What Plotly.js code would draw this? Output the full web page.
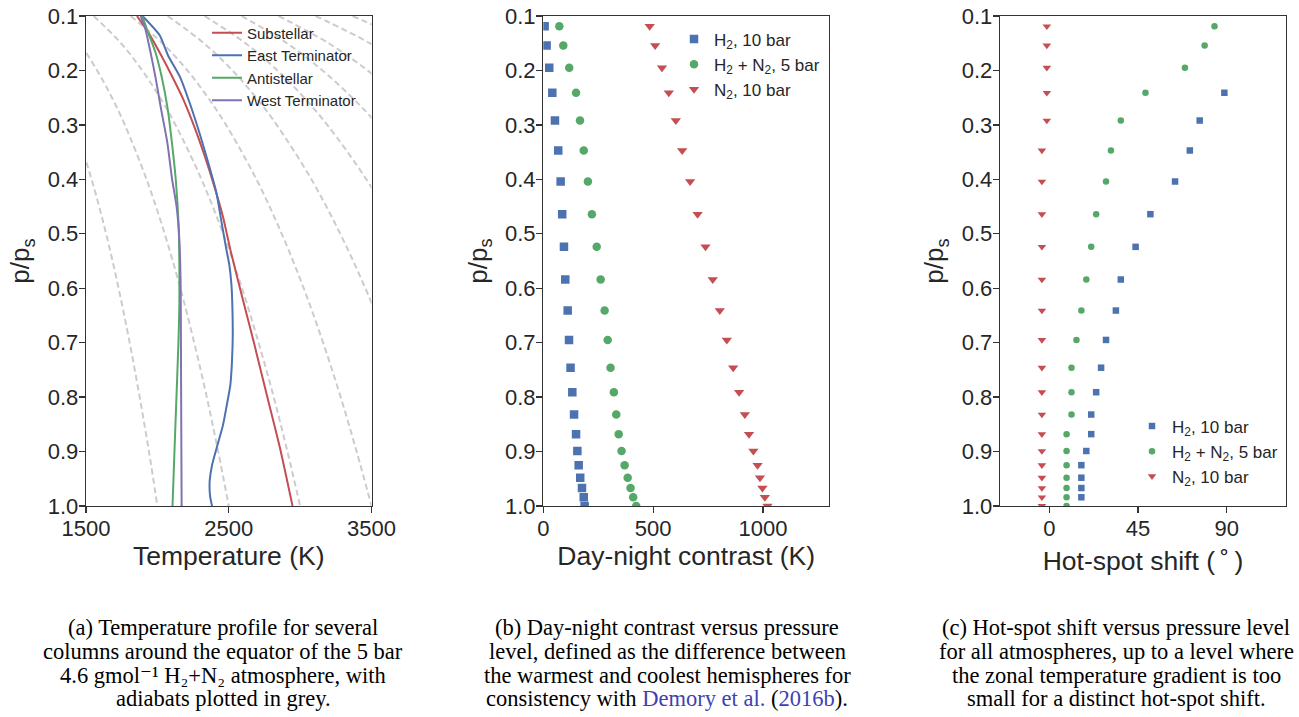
<!DOCTYPE html>
<html><head><meta charset="utf-8">
<script src="https://cdn.plot.ly/plotly-3.0.1.min.js"></script>
<style>html,body{margin:0;padding:0;background:#fff}#chart{width:1299px;height:717px}</style>
</head><body><div id="chart"></div>
<script>
// ---------- Panel (a): temperature profiles ----------
const profileNames = ['Substellar', 'East Terminator', 'Antistellar', 'West Terminator'];
const subP  = [0.1, 0.131, 0.175, 0.214, 0.254, 0.309, 0.359, 0.420, 0.469, 0.530, 0.622, 0.704, 0.805, 0.897, 1.0];
const subT  = [1857, 1938, 2032, 2109, 2183, 2267, 2334, 2407, 2460, 2512, 2600, 2680, 2775, 2862, 2947];
const eastP = [0.1, 0.135, 0.172, 0.214, 0.264, 0.315, 0.370, 0.425, 0.478, 0.530, 0.557, 0.594, 0.640, 0.686, 0.732, 0.778, 0.815, 0.851, 0.888, 0.925, 0.952, 0.971, 0.985, 1.0];
const eastT = [1896, 2015, 2074, 2162, 2232, 2295, 2357, 2414, 2449, 2484, 2504, 2519, 2526, 2528, 2523, 2511, 2486, 2460, 2421, 2383, 2367, 2366, 2371, 2383];
const antiP = [0.1, 0.126, 0.168, 0.214, 0.267, 0.333, 0.398, 0.484, 0.557, 0.631, 0.704, 0.805, 0.897, 1.0];
const antiT = [1894, 1929, 1988, 2032, 2070, 2102, 2128, 2149, 2154, 2154, 2147, 2133, 2120, 2106];
const westP = [0.1, 0.126, 0.168, 0.214, 0.267, 0.333, 0.398, 0.451, 0.511, 0.594, 0.704, 0.897, 1.0];
const westT = [1883, 1918, 1953, 1988, 2023, 2070, 2102, 2135, 2154, 2163, 2165, 2168, 2170];

// grey dry adiabats, one per surface temperature
const adiabatP = [0.1, 0.15, 0.2, 0.25, 0.3, 0.4, 0.5, 0.6, 0.7, 0.8, 0.9, 1.0];
const adiabat2000 = [1036, 1163, 1263, 1346, 1418, 1539, 1641, 1728, 1806, 1876, 1941, 2000];
const adiabat2500 = [1295, 1454, 1578, 1682, 1772, 1924, 2051, 2161, 2258, 2346, 2426, 2500];
const adiabat3000 = [1554, 1745, 1894, 2019, 2127, 2309, 2461, 2593, 2709, 2815, 2911, 3000];
const adiabat3500 = [1813, 2035, 2210, 2355, 2481, 2694, 2871, 3025, 3161, 3284, 3396, 3500];
const adiabat4000 = [2072, 2326, 2526, 2692, 2836, 3079, 3281, 3457, 3612, 3753, 3881, 4000];
const adiabat4500 = [2331, 2617, 2841, 3028, 3190, 3464, 3692, 3889, 4064, 4222, 4367, 4500];
const adiabat5000 = [2590, 2908, 3157, 3365, 3545, 3848, 4102, 4321, 4516, 4691, 4852, 5000];
const adiabat5500 = [2849, 3199, 3473, 3701, 3899, 4233, 4512, 4753, 4967, 5160, 5337, 5500];
const adiabat6000 = [3108, 3489, 3788, 4038, 4254, 4618, 4922, 5185, 5419, 5629, 5822, 6000];
const adiabat6500 = [3367, 3780, 4104, 4374, 4608, 5003, 5332, 5617, 5870, 6098, 6307, 6500];
const adiabats = [adiabat2000, adiabat2500, adiabat3000, adiabat3500, adiabat4000,
                  adiabat4500, adiabat5000, adiabat5500, adiabat6000, adiabat6500];

// ---------- Panels (b) and (c): model levels ----------
const pLevels = [0.119, 0.154, 0.195, 0.241, 0.292, 0.347, 0.404, 0.464, 0.524, 0.584, 0.641,
                 0.695, 0.746, 0.791, 0.832, 0.868, 0.899, 0.925, 0.948, 0.967, 0.984, 1.0];
const seriesNames = ['H<sub>2</sub>, 10 bar', 'H<sub>2</sub> + N<sub>2</sub>, 5 bar', 'N<sub>2</sub>, 10 bar'];

const contrastH2   = [6, 15, 27, 41, 53, 68, 79, 86, 94, 100, 111, 117, 124, 132, 140, 149, 155, 161, 168, 176, 184, 188];
const contrastH2N2 = [73, 91, 118, 149, 167, 184, 203, 221, 243, 261, 279, 293, 306, 321, 332, 343, 356, 370, 384, 397, 409, 423];
const contrastN2   = [484, 509, 540, 571, 603, 632, 668, 702, 738, 771, 803, 835, 864, 891, 917, 936, 956, 975, 986, 997, 1008, 1020];

const shiftH2   = [null, null, null, 88.75, 76.25, 71.25, 63.75, 51.25, 43.75, 36.25, 33.75, 28.75, 26.25,
                   23.75, 21.25, 21.25, 18.75, 16.25, 16.25, 16.25, 16.25, null];
const shiftH2N2 = [83.75, 78.75, 68.75, 48.75, 36.25, 31.25, 28.75, 23.75, 21.25, 18.75, 16.25, 13.75, 11.25,
                   11.25, 11.25, 8.75, 8.75, 8.75, 8.75, 8.75, 8.75, 8.75];
const shiftN2   = [-1.25, -1.25, -1.25, -1.25, -1.25, -3.75, -3.75, -3.75, -3.75, -3.75, -3.75, -3.75, -3.75,
                   -3.75, -3.75, -3.75, -3.75, -3.75, -3.75, -3.75, -3.75, -3.75];

const yTicks = [0.1, 0.2, 0.3, 0.4, 0.5, 0.6, 0.7, 0.8, 0.9, 1.0];

const captionA = ['(a) Temperature profile for several',
                  'columns around the equator of the 5 bar',
                  '4.6 gmol⁻¹ H₂+N₂ atmosphere, with',
                  'adiabats plotted in grey.'];
const captionB = ['(b) Day-night contrast versus pressure',
                  'level, defined as the difference between',
                  'the warmest and coolest hemispheres for',
                  'consistency with <span style="color:#3f3fb5">Demory et al.</span> (<span style="color:#3f3fb5">2016b</span>).'];
const captionC = ['(c) Hot-spot shift versus pressure level',
                  'for all atmospheres, up to a level where',
                  'the zonal temperature gradient is too',
                  'small for a distinct hot-spot shift.'];

// ---------- styling ----------
const W = 1299, H = 717;
const fx = v => v / W, fy = v => 1 - v / H;
const colBlue = '#4C72B0', colGreen = '#55A868', colRed = '#C44E52', colPurple = '#8172B2';
const SANS = 'Liberation Sans, Arial, sans-serif';
const SERIF = 'Liberation Serif, Times New Roman, DejaVu Serif, serif';

const traces = [];
adiabats.forEach(t => traces.push({
  x: t, y: adiabatP, xaxis: 'x', yaxis: 'y', mode: 'lines', showlegend: false, hoverinfo: 'skip',
  line: {color: '#cccccc', width: 2, dash: '6px,3.5px', shape: 'spline'}
}));
const profiles = [[subT, subP, colRed], [eastT, eastP, colBlue], [antiT, antiP, colGreen], [westT, westP, colPurple]];
profiles.forEach((pr, i) => traces.push({
  x: pr[0], y: pr[1], xaxis: 'x', yaxis: 'y', mode: 'lines', name: profileNames[i], legend: 'legend',
  line: {color: pr[2], width: 2, shape: 'spline', smoothing: 0.6}
}));

const mk = [['square', colBlue], ['circle', colGreen], ['triangle-down', colRed]];
[contrastH2, contrastH2N2, contrastN2].forEach((v, i) => traces.push({
  x: v, y: pLevels, xaxis: 'x2', yaxis: 'y2', mode: 'markers', name: seriesNames[i], legend: 'legend2',
  legendgroup: 'b' + i,
  marker: {symbol: mk[i][0], color: mk[i][1], size: i === 2 ? 9 : 8.5, line: {width: 0}}
}));
[shiftH2, shiftH2N2, shiftN2].forEach((v, i) => traces.push({
  x: v, y: pLevels, xaxis: 'x3', yaxis: 'y3', mode: 'markers', name: seriesNames[i], legend: 'legend3',
  legendgroup: 'c' + i,
  marker: {symbol: mk[i][0], color: mk[i][1], size: i === 2 ? 7.5 : 6.5, line: {width: 0}}
}));

const axCommon = {
  showline: true, linecolor: '#333333', linewidth: 1.3, mirror: true,
  ticks: 'outside', ticklen: 6, tickwidth: 1.3, tickcolor: '#333333',
  showgrid: false, zeroline: false, automargin: false, ticklabelstandoff: -4,
  tickfont: {family: SANS, size: 22, color: '#262626'}
};
const yDom = [fy(506), fy(16)];
function yax(anchor) {
  return Object.assign({}, axCommon, {
    domain: yDom, anchor: anchor, range: [1.0, 0.1], autorange: false,
    tickvals: yTicks, tickformat: '.1f',
    title: {text: 'p/p<sub>s</sub>', font: {family: SANS, size: 26, color: '#262626'}, standoff: 10}
  });
}
function xax(dom, anchor, range, ticks, title, standoff) {
  return Object.assign({}, axCommon, {
    domain: dom, anchor: anchor, range: range, autorange: false, tickvals: ticks,
    title: {text: title, font: {family: SANS, size: 26.5, color: '#262626'}, standoff: standoff}
  });
}

const annotations = [];
[[captionA, 223], [captionB, 667], [captionC, 1116]].forEach(([lines, cx]) => {
  const ys = [627, 651, 675, 698];
  lines.forEach((t, i) => annotations.push({
    text: t, xref: 'paper', yref: 'paper', x: fx(cx), y: fy(ys[i]), xanchor: 'center', yanchor: 'middle',
    showarrow: false, font: {family: SERIF, size: 22.5, color: '#000000'}
  }));
});

const legendBase = {bgcolor: 'rgba(0,0,0,0)', borderwidth: 0, xanchor: 'left', yanchor: 'top', tracegroupgap: 0};
const layout = {
  width: W, height: H, margin: {l: 0, r: 0, t: 0, b: 0},
  paper_bgcolor: '#ffffff', plot_bgcolor: '#ffffff',
  font: {family: SANS, color: '#262626'},
  xaxis:  xax([fx(86), fx(371.5)], 'y', [1500, 3500], [1500, 2500, 3500], 'Temperature (K)', 3),
  xaxis2: xax([fx(543.3), fx(829)], 'y2', [0, 1300], [0, 500, 1000], 'Day-night contrast (K)', 3),
  xaxis3: xax([fx(1000), fx(1286)], 'y3', [-25, 120], [0, 45, 90], 'Hot-spot shift (\u2009˚\u2009)', 11),
  yaxis: yax('x'), yaxis2: yax('x2'), yaxis3: yax('x3'),
  legend:  Object.assign({}, legendBase, {x: fx(207), y: fy(16.5), font: {family: SANS, size: 15, color: '#262626'}}),
  legend2: Object.assign({}, legendBase, {x: fx(674), y: fy(21.5), font: {family: SANS, size: 17, color: '#262626'}}),
  legend3: Object.assign({}, legendBase, {x: fx(1132), y: fy(408.5), font: {family: SANS, size: 17, color: '#262626'}}),
  annotations: annotations,
  showlegend: true
};
Plotly.newPlot('chart', traces, layout, {displayModeBar: false, staticPlot: true});
</script></body></html>
